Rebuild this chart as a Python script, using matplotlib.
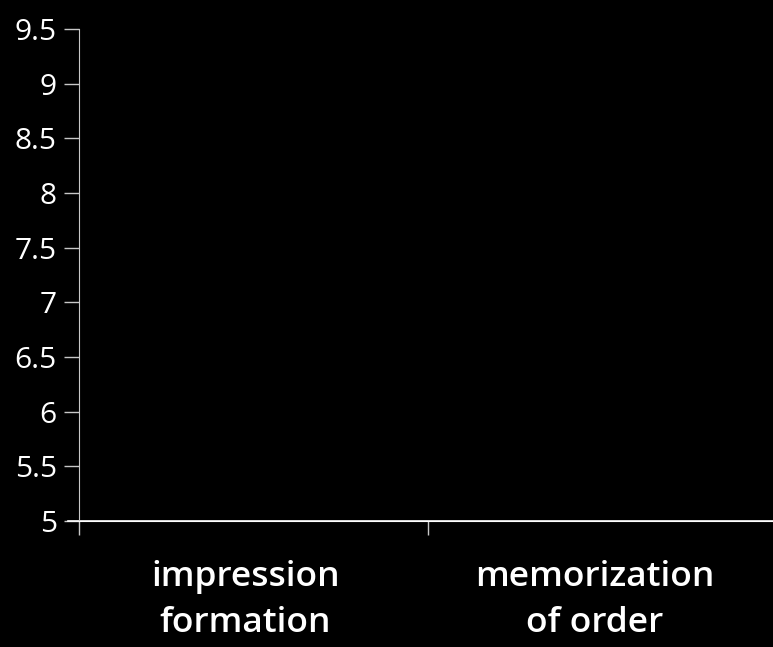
import matplotlib
matplotlib.use("Agg")
import matplotlib.pyplot as plt
import matplotlib.transforms as mtransforms
import numpy as np

categories = ["impression\nformation", "memorization\nof order"]
y_ticks = [5, 5.5, 6, 6.5, 7, 7.5, 8, 8.5, 9, 9.5]
y_tick_labels = ["5", "5.5", "6", "6.5", "7", "7.5", "8", "8.5", "9", "9.5"]

W, H = 773, 647
fig = plt.figure(figsize=(W / 100, H / 100), dpi=100, facecolor="black")
ax = fig.add_axes([79 / W, 1 - 521 / H, (777 - 79) / W, (521 - 29) / H])
ax.set_facecolor("black")

ax.set_ylim(5, 9.5)
ax.set_xlim(0, len(categories))

ax.set_yticks(y_ticks)
ax.set_yticklabels(y_tick_labels, fontfamily="Open Sans", fontsize=21.5, color="white")
ax.tick_params(axis="y", direction="out", length=11, width=1, color="#c8c8c8", pad=5)

# category boundary ticks
ax.set_xticks(np.arange(len(categories) + 1))
ax.set_xticklabels([""] * (len(categories) + 1))
ax.tick_params(axis="x", which="major", direction="out", length=10, width=1, color="#c8c8c8")
# category labels as minor ticks
ax.set_xticks(np.arange(len(categories)) + 0.5, minor=True)
ax.set_xticklabels(categories, minor=True, fontfamily="Open Sans", fontweight="semibold",
                   fontsize=25.5, color="white", linespacing=1.45)
ax.tick_params(axis="x", which="minor", length=0, pad=28)
offset = mtransforms.ScaledTranslation(-8 / 100, 0, fig.dpi_scale_trans)
for lbl in ax.get_xticklabels(minor=True):
    lbl.set_transform(lbl.get_transform() + offset)

for s in ["top", "right"]:
    ax.spines[s].set_visible(False)
ax.spines["left"].set_color("#c8c8c8")
ax.spines["bottom"].set_color("white")
ax.spines["left"].set_bounds(5, 9.5)

ax.axhline(5, xmin=-11 / (777 - 79), xmax=1, color="white", lw=1.2, clip_on=False)

fig.savefig("out.png", dpi=100, facecolor="black")
